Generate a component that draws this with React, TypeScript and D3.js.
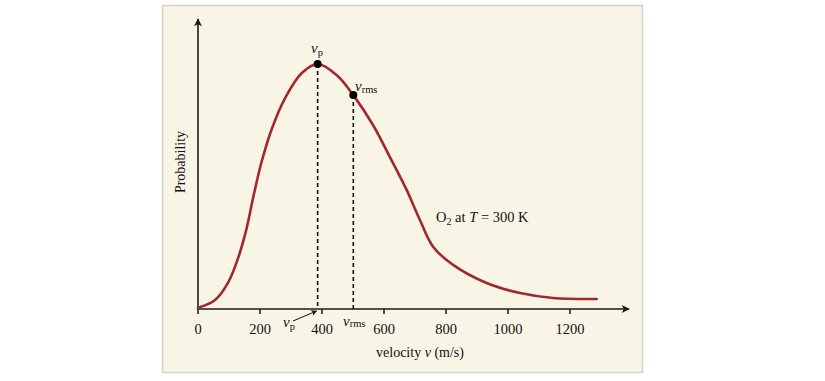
import React from "react";
import * as d3 from "d3";

const velocity = [0, 55, 98, 130, 157, 178, 205, 238, 281, 335, 386, 447, 501, 565, 619, 673, 716, 759, 823, 931, 1039, 1145, 1286];
const probability = [0.005, 0.037, 0.11, 0.21, 0.33, 0.455, 0.6, 0.735, 0.861, 0.963, 1.0, 0.955, 0.873, 0.75, 0.62, 0.486, 0.363, 0.253, 0.18, 0.106, 0.065, 0.045, 0.041];
const xTicks = [0, 200, 400, 600, 800, 1000, 1200];
const vp = 386;
const vrms = 501;
const vpProb = 1.0;
const vrmsProb = 0.873;

const SERIF = "'Liberation Serif', 'Times New Roman', serif";

export default function App() {
  const x = d3.scaleLinear().domain([0, 1200]).range([198, 570]);
  const y = d3.scaleLinear().domain([0, 1]).range([309, 64]);
  const pts = velocity.map((v, i) => [v, probability[i]] as [number, number]);
  const line = d3
    .line<[number, number]>()
    .x((d) => x(d[0]))
    .y((d) => y(d[1]))
    .curve(d3.curveCatmullRom.alpha(0.5));
  const x0 = x(0);
  const y0 = y(0);
  const axisColor = "#1a1a1a";
  const curveColor = "#a0292d";
  return (
    <svg width={825} height={381} style={{ position: "absolute", left: 0, top: 0 }} fontFamily={SERIF}>
      <defs>
        <marker id="arr" viewBox="0 0 10 10" refX="9" refY="5" markerWidth="10" markerHeight="8" markerUnits="userSpaceOnUse" orient="auto">
          <path d="M0,0 L10,5 L0,10 L2.5,5 Z" fill={axisColor} />
        </marker>
        <marker id="arrSmall" viewBox="0 0 10 10" refX="9" refY="5" markerWidth="7" markerHeight="6" markerUnits="userSpaceOnUse" orient="auto">
          <path d="M0,0 L10,5 L0,10 L2.5,5 Z" fill={axisColor} />
        </marker>
      </defs>
      <rect x={0} y={0} width={825} height={381} fill="#ffffff" />
      <rect x={162.5} y={5.5} width={480} height={367} fill="#f9f5e6" stroke="#d3d1c9" strokeWidth={1.5} />
      {/* axes */}
      <line x1={x0} y1={y0} x2={x0} y2={19} stroke={axisColor} strokeWidth={1.6} markerEnd="url(#arr)" />
      <line x1={x0 - 1} y1={y0} x2={629} y2={y0} stroke={axisColor} strokeWidth={1.6} markerEnd="url(#arr)" />
      {xTicks.map((t) => (
        <g key={t}>
          <line x1={x(t)} x2={x(t)} y1={y0} y2={y0 + 5} stroke={axisColor} strokeWidth={1.5} />
          <text x={x(t)} y={334} textAnchor="middle" fontSize={14.5} fill="#111">
            {t}
          </text>
        </g>
      ))}
      <text x={420} y={357} textAnchor="middle" fontSize={14} fill="#111">
        velocity <tspan fontStyle="italic">v</tspan> (m/s)
      </text>
      <text transform="translate(185,162) rotate(-90)" textAnchor="middle" fontSize={14} fill="#111">
        Probability
      </text>
      {/* dashed lines */}
      <line x1={x(vp)} x2={x(vp)} y1={y(vpProb)} y2={y0} stroke="#111" strokeWidth={1.6} strokeDasharray="4,3" />
      <line x1={x(vrms)} x2={x(vrms)} y1={y(vrmsProb)} y2={y0} stroke="#111" strokeWidth={1.6} strokeDasharray="4,3" />
      {/* curve */}
      <path d={line(pts) || ""} fill="none" stroke={curveColor} strokeWidth={2.6} strokeLinecap="round" />
      <circle cx={x(vp)} cy={y(vpProb)} r={4} fill="#000" />
      <circle cx={x(vrms)} cy={y(vrmsProb)} r={4} fill="#000" />
      {/* labels */}
      <text x={311} y={53} fontSize={15} fill="#111">
        <tspan fontStyle="italic">v</tspan>
        <tspan fontSize={10.5} dy={3}>p</tspan>
      </text>
      <text x={355} y={91} fontSize={15} fill="#111">
        <tspan fontStyle="italic">v</tspan>
        <tspan fontSize={10.5} dy={2}>rms</tspan>
      </text>
      <text x={283} y={327} fontSize={15} fill="#111">
        <tspan fontStyle="italic">v</tspan>
        <tspan fontSize={10.5} dy={3}>p</tspan>
      </text>
      <line x1={293} y1={321} x2={x(vp) - 1} y2={311} stroke="#111" strokeWidth={1} markerEnd="url(#arrSmall)" />
      <text x={343} y={326} fontSize={15} fill="#111">
        <tspan fontStyle="italic">v</tspan>
        <tspan fontSize={10.5} dy={1}>rms</tspan>
      </text>
      <text x={436} y={221.5} fontSize={14.5} fill="#111">
        O<tspan fontSize={10} dy={3}>2</tspan>
        <tspan dy={-3}> at </tspan>
        <tspan fontStyle="italic">T</tspan> = 300 K
      </text>
    </svg>
  );
}
